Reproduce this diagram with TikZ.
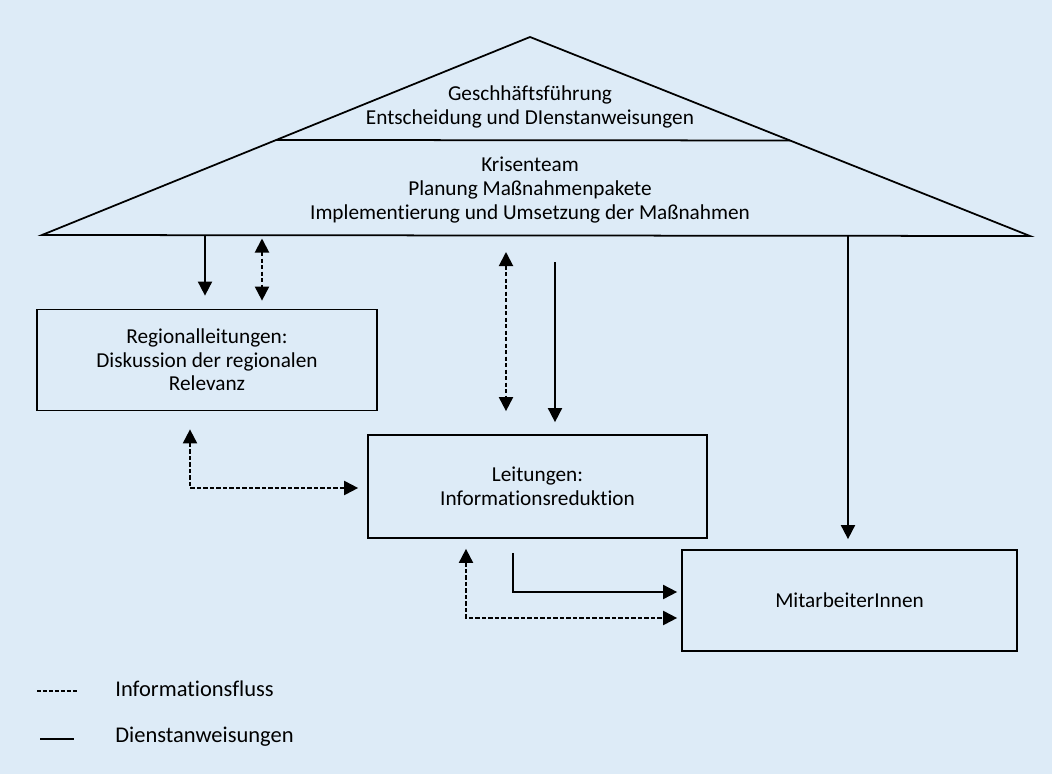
\documentclass[tikz,border=0pt]{standalone}
\usepackage{fontspec}
\setmainfont{Carlito}[Ligatures=NoCommon]
\usetikzlibrary{arrows.meta,calc}
\definecolor{bgblue}{RGB}{221,235,247}

\tikzset{
    org box/.style={
        draw,line width=1pt,
        minimum width=6.8cm,minimum height=2.02cm,
        align=center,inner sep=0pt
    },
    roof text/.style={align=center,inner sep=0pt},
    legend text/.style={anchor=west,inner sep=0pt,font=\fontsize{12.8}{14}\selectfont},
    dienst/.style={line width=1pt,-{Triangle[length=8pt,width=8pt]}},
    info/.style={line width=1.1pt,dash pattern=on 2.5pt off 1.2pt,-{Triangle[length=8pt,width=8pt]}},
    info both/.style={info,{Triangle[length=8pt,width=8pt]}-{Triangle[length=8pt,width=8pt]}}
}

\begin{document}
\begin{tikzpicture}[x=0.02cm,y=-0.02cm,font=\fontsize{12.1}{13.4}\selectfont]
        \fill[bgblue] (0,0) rectangle (1052,774);
        \useasboundingbox (0,0) rectangle (1052,774);
        % roof
        \coordinate (apex) at (530,37);
        \coordinate (bL) at (42,235);
        \coordinate (bR) at (1030,236);
        \coordinate (iL) at ($(apex)!0.52!(bL)$);
        \coordinate (iR) at ($(apex)!0.52!(bR)$);
        \draw[line width=1pt] (bL) -- (apex) -- (bR) -- cycle;
        \draw[line width=1pt] (iL) -- (iR);
        \node[roof text] (gf) at (530,107) {Geschhäftsführung\\Entscheidung und DIenstanweisungen};
        \node[roof text] (kt) at (530,190) {Krisenteam\\Planung Maßnahmenpakete\\Implementierung und Umsetzung der Maßnahmen};
        % boxes
        \node[org box] (reg) at (207,360) {Regionalleitungen:\\Diskussion der regionalen\\Relevanz};
        \node[org box,minimum width=6.78cm,minimum height=2.06cm] (lei) at (537.5,486.5) {Leitungen:\\Informationsreduktion};
        \node[org box,minimum width=6.7cm] (mit) at (849.5,600.5) {MitarbeiterInnen};
        % connectors
        \coordinate (r1) at (205,235);
        \coordinate (r2) at (262,236);
        \coordinate (r3) at (848,236);
        \coordinate (k1) at (506,252);
        \coordinate (k2) at (555,262);
        \draw[dienst,shorten >=0.26cm] (r1) -- (r1 |- reg.north);
        \draw[info both,shorten <=0.05cm,shorten >=0.16cm] (r2) -- (r2 |- reg.north);
        \draw[info both,shorten >=0.46cm] (k1) -- (k1 |- lei.north);
        \draw[dienst,shorten >=0.24cm] (k2) -- (k2 |- lei.north);
        \draw[dienst,shorten >=0.2cm] (r3) -- (r3 |- mit.north);
        \coordinate (l1) at ($(reg.south)+(-17,18)$);
        \draw[info both,shorten >=0.18cm] (l1) |- ($(lei.west)+(0,1.5)$);
        \coordinate (l2) at ($(lei.south)+(-24.5,14)$);
        \draw[dienst,shorten >=0.08cm] (l2) |- ($(mit.west)+(0,-8.5)$);
        \coordinate (l3) at ($(lei.south)+(-71.5,10)$);
        \draw[info both,shorten >=0.08cm] (l3) |- ($(mit.west)+(0,17.5)$);
        % legend
        \node[legend text] (lgi) at (115,689) {Informationsfluss};
        \node[legend text] (lgd) at (115,737) {Dienstanweisungen};
        \draw[line width=0.9pt,dash pattern=on 2.2pt off 1.2pt] (37,691) -- (77,691);
        \draw[line width=1pt] (40,739) -- (74,739);
\end{tikzpicture}
\end{document}
